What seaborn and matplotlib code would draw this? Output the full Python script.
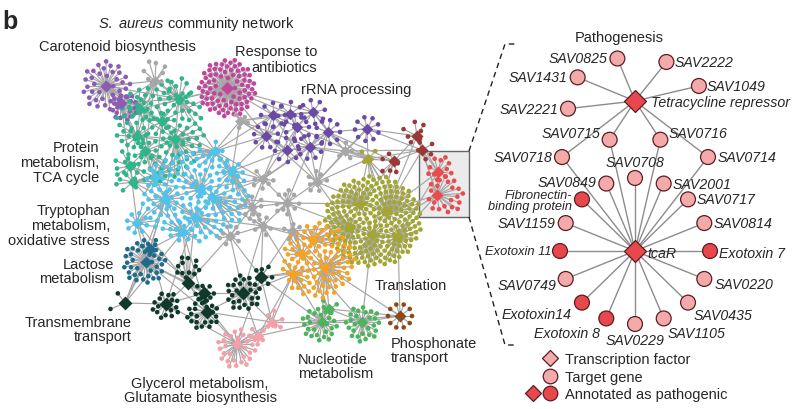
import numpy as np
import pandas as pd
import matplotlib
matplotlib.use("Agg")
import matplotlib.pyplot as plt
import seaborn as sns
from matplotlib.collections import LineCollection
from matplotlib.lines import Line2D
from matplotlib.patches import Rectangle
from matplotlib.legend_handler import HandlerTuple

# ======================= DATA =======================
module_names = [
    "Carotenoid biosynthesis", "Response to antibiotics", "rRNA processing",
    "Protein metabolism, TCA cycle", "Tryptophan metabolism, oxidative stress",
    "Lactose metabolism", "Transmembrane transport",
    "Glycerol metabolism, Glutamate biosynthesis", "Nucleotide metabolism",
    "Phosphonate transport", "Translation", "Unlabelled (orange)",
    "Unlabelled (dark red)", "Pathogenesis", "Unassigned",
]
module_colors = [
    "#8c5bb4", "#c2479c", "#6b4aa7", "#2db58c", "#4ec4ec", "#1f6b8c", "#0f3a2b",
    "#f3a0ab", "#4cb45c", "#8a4a1c", "#a3a632", "#f6a223", "#9c3738", "#ea4b4e",
    "#a7a7a7",
]
# genes attached to each regulator (hub) of a module
module_hub_targets = [
    [38, 20],
    [80],
    [8, 7, 8, 7, 9, 8, 9, 9, 9],
    [5, 8, 3, 3, 6, 6, 3, 3],
    [4, 6, 3, 3, 3, 4, 8, 3, 3],
    [38, 4],
    [3, 16, 12, 8, 22, 26, 6],
    [28, 5, 6],
    [26, 26, 3],
    [10],
    [0, 0, 0, 0, 0, 3],
    [0, 0, 0, 0],
    [7, 5, 6],
    [11, 22],
    [8, 7, 9, 10, 7, 7, 6, 5, 4, 4],
]
# additional densely co-regulated genes (cloud) per module
module_cloud_genes = [0, 0, 0, 130, 160, 0, 0, 0, 0, 0, 240, 105, 0, 0, 0]

# Pathogenesis sub-network
tf_names = ["Tetracycline repressor", "tcaR"]
tet_targets = ["SAV2221", "SAV1431", "SAV0825", "SAV2222", "SAV1049"]
shared_targets = ["SAV0718", "SAV0715", "SAV0716", "SAV0714"]
tcar_targets = ["Exotoxin 7", "SAV0814", "SAV0717", "SAV2001", "SAV0708", "SAV0849",
                "Fibronectin-\nbinding protein", "SAV1159", "Exotoxin 11", "SAV0749",
                "Exotoxin14", "Exotoxin 8", "SAV0229", "SAV1105", "SAV0435", "SAV0220"]
pathogenic = ["Tetracycline repressor", "tcaR", "Exotoxin 7", "Fibronectin-\nbinding protein",
              "Exotoxin 11", "Exotoxin14", "Exotoxin 8"]
legend_labels = ["Transcription factor", "Target gene", "Annotated as pathogenic"]

# ======================= LAYOUT (pixels, y downward) =======================
S = "sun"; R = "ring"
hub_xy = [
    [(106, 87), (121, 104)],
    [(227, 89)],
    [(273, 116), (290, 115), (313, 113), (297, 128), (266, 137), (287, 151), (310, 148), (328, 133), (367, 130)],
    [(140, 110), (179, 100), (137, 137), (145, 152), (130, 167), (133, 183), (175, 140), (162, 122)],
    [(215, 152), (232, 172), (200, 190), (212, 198), (195, 218), (183, 233), (137, 224), (165, 200), (155, 178)],
    [(146, 263), (150, 250)],
    [(125, 304), (166, 305), (188, 284), (204, 294), (207, 313), (243, 294), (261, 278)],
    [(237, 345), (258, 337), (272, 323)],
    [(322, 323), (362, 323), (329, 310)],
    [(400, 317)],
    [(360, 205), (386, 212), (372, 236), (398, 238), (350, 228), (368, 160)],
    [(313, 241), (325, 268), (293, 275), (302, 255)],
    [(417, 137), (422, 151), (394, 162)],
    [(438, 173), (437, 196)],
    [(155, 82), (263, 180), (252, 208), (287, 204), (317, 183), (230, 237), (263, 227), (292, 232), (240, 122), (345, 152)],
]
hub_spread = [  # (r_in, r_out, mode, leaf-centre dx, dy)
    [(5, 25, S, 0, 0), (5, 14, S, 4, 4)],
    [(6, 29, S, 0, 0)],
    [(12, 12, R, 0, 0)] * 9,
    [(6, 11, S, 0, 0), (8, 13, S, 0, -8), (6, 9, S, 0, 0), (6, 9, S, 0, 0), (6, 11, S, -6, 0),
     (6, 11, S, -6, 0), (6, 9, S, 0, 0), (6, 9, S, 0, 0)],
    [(6, 10, S, 0, 0), (6, 11, S, 0, 0), (6, 9, S, 0, 0), (6, 9, S, 0, 0), (6, 9, S, 0, 0),
     (6, 10, S, 0, 0), (9, 10, R, 0, 0), (6, 9, S, 0, 0), (6, 9, S, 0, 0)],
    [(6, 22, S, -2, 0), (5, 9, S, 0, -3)],
    [(6, 10, S, -8, 0), (5, 14, S, 0, 2), (4, 12, S, 0, -16), (5, 10, S, 0, 0), (5, 16, S, -4, 2),
     (5, 18, S, 0, 0), (5, 10, S, 4, -2)],
    [(6, 20, S, 0, 4), (5, 9, S, 0, 0), (5, 10, S, 2, -2)],
    [(5, 18, S, -2, 2), (5, 18, S, 1, 2), (5, 8, S, 0, -4)],
    [(12, 12, R, 0, 0)],
    [(0, 0, S, 0, 0)] * 5 + [(5, 9, S, 0, -5)],
    [(0, 0, S, 0, 0)] * 4,
    [(5, 12, S, -3, -5), (5, 10, S, 4, 0), (5, 11, S, -5, 3)],
    [(5, 13, S, 2, -3), (6, 19, S, 8, 0)],
    [(6, 13, S, 0, -8), (6, 11, S, 0, 0), (6, 12, S, 0, 0), (6, 13, S, 0, 0), (6, 11, S, 0, 0),
     (6, 11, S, 0, 0), (6, 10, S, 0, 0), (6, 9, S, 0, 0), (5, 8, S, 0, 0), (5, 9, S, 0, 0)],
]
cloud_shape = [None, None, None, (160, 132, 45, 52), (195, 197, 54, 46), None, None, None,
               None, None, (373, 222, 49, 46), (318, 262, 37, 38), None, None, None]
hub_size = [38, 44, 34, 34, 34, 38, 50, 34, 34, 38, 34, 34, 38, 38, 30]
leaf_size = 11

GA = np.pi * (3 - np.sqrt(5))


def sunflower(cx, cy, n, r0, r1, sx=1.0, sy=1.0, phase=0.0):
    k = np.arange(n)
    r = r0 + (r1 - r0) * np.sqrt((k + 0.5) / max(n, 1))
    th = phase + k * GA
    return cx + sx * r * np.cos(th), cy + sy * r * np.sin(th)


def ring(cx, cy, n, r, phase=0.0):
    th = phase + 2 * np.pi * np.arange(n) / max(n, 1)
    return cx + r * np.cos(th), cy + r * np.sin(th)


nodes = []   # x, y, module, kind
edges = []
hubs_all = []
for mi, name in enumerate(module_names):
    hubs = hub_xy[mi]
    for hi, (hx, hy) in enumerate(hubs):
        hubs_all.append((hx, hy, mi))
        nodes.append((hx, hy, mi, "hub"))
        n = module_hub_targets[mi][hi]
        if n == 0:
            continue
        r0, r1, mode, ox, oy = hub_spread[mi][hi]
        if mode == R:
            lx, ly = ring(hx + ox, hy + oy, n, r1, phase=0.3 * hi)
        else:
            lx, ly = sunflower(hx + ox, hy + oy, n, r0, r1, phase=0.7 * hi)
        for x, y in zip(lx, ly):
            nodes.append((x, y, mi, "leaf"))
            edges.append([(hx, hy), (x, y)])
    if cloud_shape[mi] is not None:
        cx, cy, rx, ry = cloud_shape[mi]
        lx, ly = sunflower(cx, cy, module_cloud_genes[mi], 0, 1, rx, ry, phase=0.2)
        harr = np.array(hubs, float)
        for x, y in zip(lx, ly):
            d = np.hypot(harr[:, 0] - x, harr[:, 1] - y)
            j = int(np.argmin(d))
            nodes.append((x, y, mi, "leaf"))
            edges.append([tuple(harr[j]), (x, y)])

# hub-to-hub regulatory links (nearest neighbours + longer cross-module links)
H = np.array([(h[0], h[1]) for h in hubs_all], float)
seen = set()
for i in range(len(H)):
    d = np.hypot(H[:, 0] - H[i, 0], H[:, 1] - H[i, 1])
    d[i] = np.inf
    order = np.argsort(d)
    for j in order[:3]:
        key = (min(i, j), max(i, j))
        if key not in seen:
            seen.add(key)
            edges.append([tuple(H[i]), tuple(H[j])])
    other = [j for j in order if hubs_all[j][2] != hubs_all[i][2] and d[j] < 140]
    for j in other[3:7:2]:
        key = (min(i, j), max(i, j))
        if key not in seen:
            seen.add(key)
            edges.append([tuple(H[i]), tuple(H[j])])

nodes_df = pd.DataFrame(nodes, columns=["x", "y", "module", "kind"])
nodes_df["module_name"] = [module_names[m] for m in nodes_df["module"]]

# ======================= FIGURE =======================
sns.set_theme(style="white")
plt.rcParams["font.family"] = ["Liberation Sans", "DejaVu Sans"]
plt.rcParams["mathtext.fontset"] = "custom"
plt.rcParams["mathtext.rm"] = "Liberation Sans"
plt.rcParams["mathtext.it"] = "Liberation Sans:italic"

fig = plt.figure(figsize=(7.98, 4.10), dpi=100)
ax = fig.add_axes([0, 0, 1, 1])
ax.set_xlim(0, 798)
ax.set_ylim(410, 0)
ax.axis("off")

# grey highlight box around the pathogenesis module
ax.add_patch(Rectangle((419, 152), 50, 66, facecolor="#ebebeb", edgecolor="#666666",
                       lw=1.0, zorder=0.5))

ax.add_collection(LineCollection(edges, colors="#a6a6a6", linewidths=0.85, zorder=1))

palette = dict(zip(module_names, module_colors))
leaves = nodes_df[nodes_df.kind == "leaf"]
sns.scatterplot(data=leaves, x="x", y="y", hue="module_name", palette=palette, s=leaf_size,
                linewidth=0, legend=False, ax=ax, zorder=2)
hubs_df = nodes_df[nodes_df.kind == "hub"]
for mi, name in enumerate(module_names):
    sub = hubs_df[hubs_df.module == mi]
    sns.scatterplot(data=sub, x="x", y="y", color=module_colors[mi], marker="D",
                    s=hub_size[mi], linewidth=0, legend=False, ax=ax, zorder=3)
ax.set_xlabel("")
ax.set_ylabel("")

# dashed zoom bracket
ax.plot([469, 505, 518], [152, 45, 45], ls=(0, (4, 3)), color="#222222", lw=1.0)
ax.plot([469, 505, 516], [218, 346, 346], ls=(0, (4, 3)), color="#222222", lw=1.0)

# ---------- texts (left panel) ----------
fs = 10.5
ax.text(2, 22, "b", fontsize=18, fontweight="bold", va="center", ha="left")
ax.text(197, 24, r"$\it{S.\ aureus}$ community network", fontsize=fs, ha="center", va="center")
ax.text(117, 47, "Carotenoid biosynthesis", fontsize=fs, ha="center", va="center")
ax.text(317, 60, "Response to\nantibiotics", fontsize=fs, ha="right", va="center", linespacing=1.1)
ax.text(356, 90, "rRNA processing", fontsize=fs, ha="center", va="center")
ax.text(99, 163, "Protein\nmetabolism,\nTCA cycle", fontsize=fs, ha="right", va="center", linespacing=1.05)
ax.text(110, 226, "Tryptophan\nmetabolism,\noxidative stress", fontsize=fs, ha="right", va="center", linespacing=1.05)
ax.text(114, 272, "Lactose\nmetabolism", fontsize=fs, ha="right", va="center", linespacing=1.05)
ax.text(132, 330, "Transmembrane\ntransport", fontsize=fs, ha="right", va="center", linespacing=1.05)
ax.text(200, 391, "Glycerol metabolism,\nGlutamate biosynthesis", fontsize=fs, ha="center", va="center", linespacing=1.05)
ax.text(298, 367, "Nucleotide\nmetabolism", fontsize=fs, ha="left", va="center", linespacing=1.05)
ax.text(375, 286, "Translation", fontsize=fs, ha="left", va="center")
ax.text(391, 351, "Phosphonate\ntransport", fontsize=fs, ha="left", va="center", linespacing=1.05)

# ---------- pathogenesis sub-network (right panel) ----------
tet_xy = (635, 102)
tcar_xy = (635, 252)
pos = {tf_names[0]: tet_xy, tf_names[1]: tcar_xy}
fan = np.radians(np.linspace(190, 20, len(tet_targets)))
for nm, a in zip(tet_targets, fan):
    pos[nm] = (tet_xy[0] + 68 * np.cos(a), tet_xy[1] - 44 * np.sin(a))
arc = np.radians(np.linspace(120, 60, len(shared_targets)))
for nm, a in zip(shared_targets, arc):
    pos[nm] = (635 + 146 * np.cos(a), 284.5 - 146 * np.sin(a))
circ = np.radians(np.arange(len(tcar_targets)) * 360.0 / len(tcar_targets))
for nm, a in zip(tcar_targets, circ):
    pos[nm] = (tcar_xy[0] + 75 * np.cos(a), tcar_xy[1] - 73 * np.sin(a))

sub_edges = [[tet_xy, pos[n]] for n in tet_targets + shared_targets]
sub_edges += [[tcar_xy, pos[n]] for n in tcar_targets + shared_targets]
ax.add_collection(LineCollection(sub_edges, colors="#8c8c8c", linewidths=1.0, zorder=4))

pink = "#f4aaab"
red = "#e8484d"
edge_c = "#5a1d1f"
genes = tet_targets + shared_targets + tcar_targets
gdf = pd.DataFrame({"gene": genes,
                    "x": [pos[g][0] for g in genes],
                    "y": [pos[g][1] for g in genes],
                    "patho": [g in pathogenic for g in genes]})
sns.scatterplot(data=gdf, x="x", y="y", hue="patho", palette={False: pink, True: red},
                s=115, edgecolor=edge_c, linewidth=0.9, legend=False, ax=ax, zorder=5)
tdf = pd.DataFrame({"tf": tf_names, "x": [pos[t][0] for t in tf_names],
                    "y": [pos[t][1] for t in tf_names]})
sns.scatterplot(data=tdf, x="x", y="y", color=red, marker="D", s=125, edgecolor=edge_c,
                linewidth=0.9, legend=False, ax=ax, zorder=6)
ax.set_xlabel("")
ax.set_ylabel("")

label_place = {  # dx, dy, ha
    "SAV2221": (-10, 0, "right"), "SAV1431": (-10, 0, "right"), "SAV0825": (-10, 0, "right"),
    "SAV2222": (8, 0, "left"), "SAV1049": (8, 0, "left"),
    "SAV0718": (-10, 0, "right"), "SAV0715": (-9, -7, "right"), "SAV0716": (8, -7, "left"),
    "SAV0714": (10, 0, "left"),
    "Exotoxin 7": (9, 2, "left"), "SAV0814": (9, 0, "left"), "SAV0717": (9, 0, "left"),
    "SAV2001": (9, 0, "left"), "SAV0708": (0, -16, "center"), "SAV0849": (-10, -2, "right"),
    "Fibronectin-\nbinding protein": (-10, 1, "right"), "SAV1159": (-10, 0, "right"),
    "Exotoxin 11": (-9, 0, "right"), "SAV0749": (-9, 6, "right"), "Exotoxin14": (-10, 11, "right"),
    "Exotoxin 8": (-6, 15, "right"), "SAV0229": (0, 16, "center"), "SAV1105": (4, 15, "left"),
    "SAV0435": (6, 12, "left"), "SAV0220": (10, 5, "left"),
}
for g in genes:
    dx, dy, ha = label_place[g]
    size = 10.2
    if g.startswith("Fibronectin"):
        size = 9.2
    elif g == "Exotoxin 11":
        size = 9.3
    ax.text(pos[g][0] + dx, pos[g][1] + dy, g, fontsize=size, style="italic", ha=ha,
            va="center", linespacing=0.95, zorder=7)
ax.text(tet_xy[0] + 16, tet_xy[1] + 1, "Tetracycline repressor", fontsize=10.2, style="italic",
        ha="left", va="center", zorder=7)
ax.text(tcar_xy[0] + 12, tcar_xy[1] + 2, "tcaR", fontsize=10.2, style="italic",
        ha="left", va="center", zorder=7)
ax.text(619, 38, "Pathogenesis", fontsize=10.5, ha="center", va="center")

# legend
blank = Line2D([], [], ls="none", marker="o", markersize=0)
h_tf = Line2D([], [], ls="none", marker="D", markersize=8.6, markerfacecolor=pink,
              markeredgecolor=edge_c, markeredgewidth=0.9)
h_tg = Line2D([], [], ls="none", marker="o", markersize=10.5, markerfacecolor=pink,
              markeredgecolor=edge_c, markeredgewidth=0.9)
h_pd = Line2D([], [], ls="none", marker="D", markersize=8.6, markerfacecolor=red,
              markeredgecolor=edge_c, markeredgewidth=0.9)
h_pc = Line2D([], [], ls="none", marker="o", markersize=10.5, markerfacecolor=red,
              markeredgecolor=edge_c, markeredgewidth=0.9)
ax.legend([(blank, h_tf), (blank, h_tg), (h_pd, h_pc)], legend_labels,
          handler_map={tuple: HandlerTuple(ndivide=None, pad=0.0)},
          loc="upper left", bbox_to_anchor=(525 / 798, 1 - 353 / 410),
          frameon=False, fontsize=10.5, handlelength=2.3, handletextpad=0.45,
          labelspacing=0.25, borderpad=0.0, borderaxespad=0.0)

fig.savefig("out.png", dpi=100)
